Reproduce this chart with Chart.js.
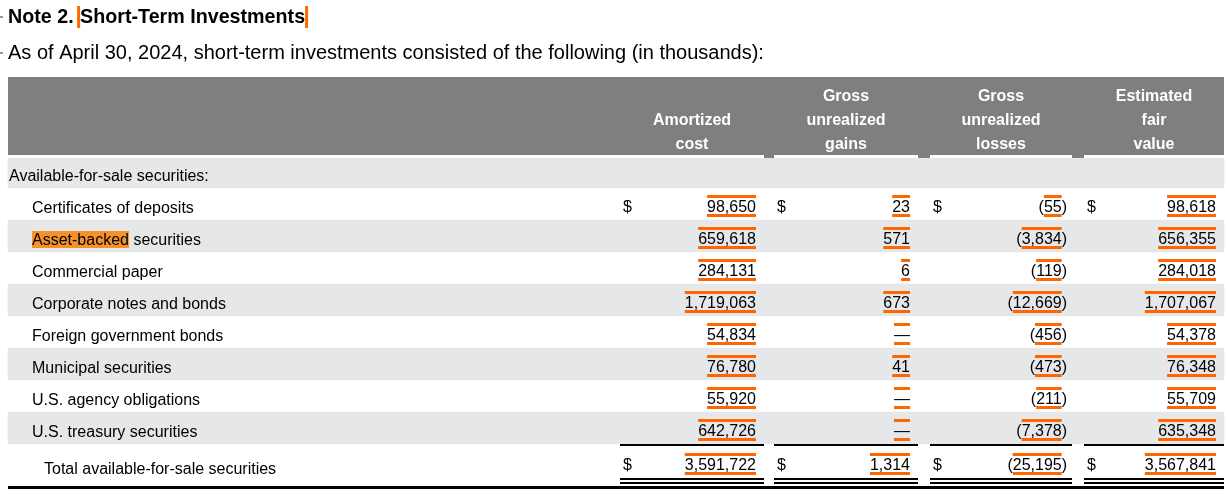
<!DOCTYPE html>
<html><head><meta charset="utf-8">
<script src="https://cdn.jsdelivr.net/npm/chart.js@4.4.1/dist/chart.umd.min.js"></script>
<style>html,body{margin:0;padding:0;background:#fff;}canvas{display:block;}</style>
</head><body>
<canvas id="c" width="1228" height="499"></canvas>
<script>
// ---- data ----
const titleText = "Note 2. Short-Term Investments";
const subtitleText = "As of April 30, 2024, short-term investments consisted of the following (in thousands):";
const groupLabel = "Available-for-sale securities:";
const totalLabel = "Total available-for-sale securities";
const categories = [
  "Certificates of deposits",
  "Asset-backed securities",
  "Commercial paper",
  "Corporate notes and bonds",
  "Foreign government bonds",
  "Municipal securities",
  "U.S. agency obligations",
  "U.S. treasury securities"
];
const columnHeaders = [
  ["Amortized", "cost"],
  ["Gross", "unrealized", "gains"],
  ["Gross", "unrealized", "losses"],
  ["Estimated", "fair", "value"]
];
const amortizedCost = [98650, 659618, 284131, 1719063, 54834, 76780, 55920, 642726];
const grossGains    = [23, 571, 6, 673, null, 41, null, null];
const grossLosses   = [-55, -3834, -119, -12669, -456, -473, -211, -7378];
const fairValue     = [98618, 656355, 284018, 1707067, 54378, 76348, 55709, 635348];
const totals        = [3591722, 1314, -25195, 3567841];

// ---- derived ----
const rowLabels = [groupLabel, ...categories, totalLabel];
const columns = [amortizedCost, grossGains, grossLosses, fairValue];
const nRows = rowLabels.length;

const FONT = '"Liberation Sans", Arial, sans-serif';
const GREY_HEAD = '#7f7f7f';
const GREY_ROW = '#e6e7e8';
const ORANGE = '#ff6600';
const HILITE = '#f7912c';

// column cell extents (layout)
const cells = [[620, 764], [774, 918], [930, 1072], [1084, 1224]];
const numRight = [756, 910, 1067, 1216];
const dollarX = [623, 777, 933, 1087];
const tableLeft = 8, tableRight = 1224;

function fmt(v) {
  const s = Math.abs(v).toLocaleString('en-US');
  return v < 0 ? '(' + s + ')' : s;
}

const tablePlugin = {
  id: 'tablePlugin',
  afterDatasetsDraw(chart) {
    const ctx = chart.ctx;
    const xs = chart.scales.x, ys = chart.scales.y;
    const X = v => xs.getPixelForValue(v);
    const area = chart.chartArea;
    ctx.save();

    // title area
    ctx.fillStyle = '#999';
    ctx.fillRect(0, 16, 3, 2);
    ctx.fillRect(0, 52, 3, 2);
    ctx.fillStyle = '#000';
    ctx.textBaseline = 'alphabetic';
    ctx.textAlign = 'left';
    ctx.font = 'bold 19.7px ' + FONT;
    const part1 = "Note 2. ";
    const part2 = titleText.slice(part1.length);
    ctx.fillText(part1, X(8), 23);
    const w1 = ctx.measureText(part1).width;
    ctx.fillStyle = ORANGE;
    ctx.fillRect(X(8) + w1 - 2, 6, 3, 22);
    ctx.fillStyle = '#000';
    ctx.fillText(part2, X(8) + w1 + 1, 23);
    const w2 = ctx.measureText(part2).width;
    ctx.fillStyle = ORANGE;
    ctx.fillRect(X(8) + w1 + 1 + w2, 6, 3, 22);
    ctx.fillStyle = '#000';
    ctx.font = '20px ' + FONT;
    ctx.fillText(subtitleText, X(8), 59);

    // header block
    const hTop = area.top - 79, hBot = area.top - 1;
    ctx.fillStyle = GREY_HEAD;
    ctx.fillRect(X(tableLeft), hTop, X(tableRight) - X(tableLeft), hBot - hTop);
    ctx.fillStyle = '#fff';
    ctx.fillRect(X(tableLeft), hBot, X(tableRight) - X(tableLeft), 3);
    ctx.fillStyle = GREY_HEAD;
    for (let c = 0; c < cells.length - 1; c++) {
      ctx.fillRect(X(cells[c][1]), hBot, X(cells[c + 1][0]) - X(cells[c][1]), 3);
    }
    ctx.fillStyle = '#fff';
    ctx.font = 'bold 16px ' + FONT;
    ctx.textAlign = 'center';
    columnHeaders.forEach((lines, c) => {
      const cx = (X(cells[c][0]) + X(cells[c][1])) / 2;
      const n = lines.length;
      lines.forEach((t, k) => {
        ctx.fillText(t, cx, hBot - 6 - (n - 1 - k) * 24);
      });
    });

    // rows
    ctx.font = '16px ' + FONT;
    for (let i = 0; i < nRows; i++) {
      const yc = ys.getPixelForValue(i);
      const isTotal = i === nRows - 1;
      const lblBase = yc + (isTotal ? 14 : 9);
      const numBase = yc + (isTotal ? 10 : 8);
      const label = rowLabels[i];
      const lx = i === 0 ? 9 : (isTotal ? 44 : 32);
      ctx.textAlign = 'left';
      if (label.startsWith('Asset-backed')) {
        const hw = ctx.measureText('Asset-backed').width;
        ctx.fillStyle = HILITE;
        ctx.fillRect(X(lx), lblBase - 14, hw, 17);
      }
      ctx.fillStyle = '#000';
      ctx.fillText(label, X(lx), lblBase);
      if (i === 0) continue;
      const vals = isTotal ? totals : columns.map(col => col[i - 1]);
      const showDollar = isTotal || i === 1;
      vals.forEach((v, c) => {
        const rx = X(numRight[c]);
        ctx.fillStyle = '#000';
        if (showDollar) {
          ctx.textAlign = 'left';
          ctx.fillText('$', X(dollarX[c]), numBase);
        }
        ctx.textAlign = 'right';
        let digitsRight, dw;
        if (v === null) {
          ctx.fillText('\u2014', rx, numBase);
          dw = ctx.measureText('\u2014').width;
          digitsRight = rx;
        } else {
          const s = fmt(v);
          ctx.fillText(s, rx, numBase);
          const core = Math.abs(v).toLocaleString('en-US');
          dw = ctx.measureText(core).width;
          digitsRight = v < 0 ? rx - ctx.measureText(')').width : rx;
        }
        ctx.fillStyle = ORANGE;
        ctx.fillRect(digitsRight - dw, numBase - 17, dw, 3);
        ctx.fillRect(digitsRight - dw, numBase + 2, dw, 3);
      });
    }

    // rules
    const totalTop = ys.getPixelForValue(nRows - 1) - 16;
    ctx.fillStyle = '#000';
    cells.forEach(([a, b]) => {
      ctx.fillRect(X(a), totalTop, X(b) - X(a), 2);
      ctx.fillRect(X(a), totalTop + 34, X(b) - X(a), 2);
      ctx.fillRect(X(a), totalTop + 38, X(b) - X(a), 2);
    });
    ctx.fillRect(X(tableLeft), totalTop + 42, X(tableRight) - X(tableLeft), 3);
    ctx.restore();
  }
};

const stripeData = rowLabels.map((_, i) => (i % 2 === 0 && i < nRows - 1) ? [tableLeft, tableRight] : null);

new Chart(document.getElementById('c'), {
  type: 'bar',
  data: {
    labels: rowLabels,
    datasets: [{
      data: stripeData,
      backgroundColor: GREY_ROW,
      borderWidth: 0,
      barPercentage: 1,
      categoryPercentage: 1
    }]
  },
  options: {
    indexAxis: 'y',
    responsive: false,
    animation: false,
    devicePixelRatio: 1,
    layout: { padding: { top: 156, bottom: 23, left: 0, right: 0 } },
    plugins: { legend: { display: false }, tooltip: { enabled: false }, title: { display: false } },
    scales: {
      x: { type: 'linear', min: 0, max: 1228, display: false },
      y: { type: 'category', display: false, offset: true }
    }
  },
  plugins: [tablePlugin]
});
</script>
</body></html>
